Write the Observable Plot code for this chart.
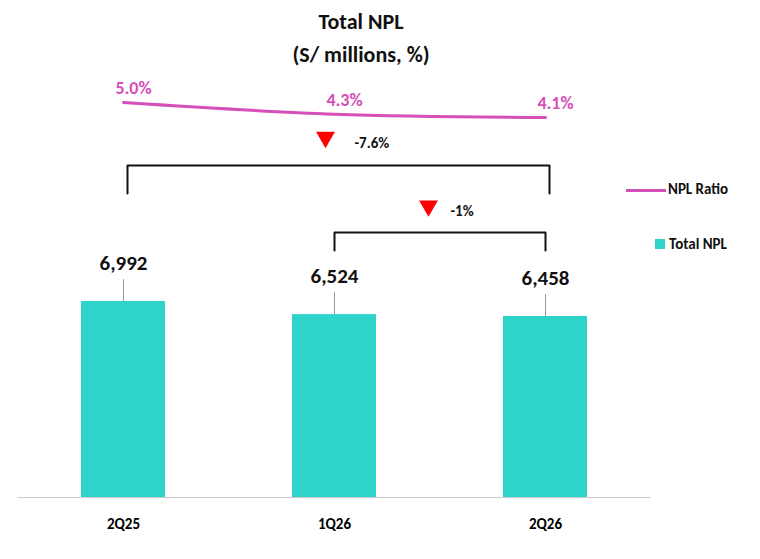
<!DOCTYPE html>
<html><head><meta charset="utf-8">
<script src="https://cdn.jsdelivr.net/npm/d3@7"></script>
<script src="https://cdn.jsdelivr.net/npm/@observablehq/plot@0.6"></script>
<style>
body{margin:0;background:#fff;font-family:Calibri,"Liberation Sans",Arial,sans-serif}
#wrap{position:relative;width:760px;height:559px}
#wrap svg{position:absolute;left:0;top:0}
.t{position:absolute;left:0;width:722px;text-align:center;font-weight:bold;font-size:22px;color:#111}
.lg{position:absolute;font-size:15px;font-weight:bold;color:#111}
</style></head><body>
<div id="wrap">
<div class="t" style="top:8px">Total NPL</div>
<div class="t" style="top:41px">(S/ millions, %)</div>
<div class="lg" style="left:626px;top:180px"><span style="display:inline-block;width:40px;height:3px;background:#D54FB8;vertical-align:middle;margin-right:2px"></span>NPL Ratio</div>
<div class="lg" style="left:655px;top:235px"><span style="display:inline-block;width:10px;height:10px;background:#2ED3CA;margin-right:4px"></span>Total NPL</div>
</div>
<script>
const periods = ["2Q25","1Q26","2Q26"];
const npl = [6992, 6524, 6458];
const ratio = [5.0, 4.3, 4.1];
const bars = periods.map((p,i)=>({p, v:npl[i]}));
const rat = periods.map((p,i)=>({p, r:ratio[i]}));
const xOpts = {type:"band", domain:periods, paddingInner:0.6, paddingOuter:0.3};
const teal="#2ED3CA", mag="#D54FB8";
const fmt = d3.format(",");
const b1 = [{p:"2Q25",y:10845},{p:"2Q25",y:11845},{p:"2Q26",y:11845},{p:"2Q26",y:10845}];
const b2 = [{p:"1Q26",y:8812},{p:"1Q26",y:9454},{p:"2Q26",y:9454},{p:"2Q26",y:8812}];
const main = Plot.plot({
  width:760, height:559, marginLeft:17.5, marginRight:109.5, marginTop:160.6, marginBottom:62,
  x:{...xOpts, label:null, tickSize:0},
  y:{domain:[0,12000], axis:null},
  style:{fontFamily:"Calibri, Liberation Sans, Arial, sans-serif", fontSize:"15px"},
  marks:[
    Plot.barY(bars,{x:"p", y:"v", fill:teal}),
    Plot.ruleY([0],{stroke:"#ccc"}),
    Plot.axisX({tickSize:0, fontWeight:"bold", fontSize:15, dy:12, stroke:"none"}),
    Plot.link(bars,{x1:"p", x2:"p", y1:"v", y2:d=>d.v+800, stroke:"#999"}),
    Plot.text(bars,{x:"p", y:"v", text:d=>fmt(d.v), dy:-38, fontSize:21, fontWeight:"bold", fill:"#111"}),
    Plot.line(b1,{x:"p", y:"y", stroke:"#111", strokeWidth:2, dx:4}),
    Plot.line(b2,{x:"p", y:"y", stroke:"#111", strokeWidth:2}),
    Plot.dot([{p:"1Q26",y:12850}],{x:"p",y:"y",symbol:"triangle",r:7,fill:"red",rotate:180,dx:-9}),
    Plot.text([{p:"1Q26",y:12650,t:"-7.6%"}],{x:"p",y:"y",text:"t",dx:20,textAnchor:"start",fontSize:15,fontWeight:"bold",fill:"#111"}),
    Plot.dot([{p:"1Q26",y:10400}],{x:"p",y:"y",symbol:"triangle",r:7,fill:"red",rotate:180,dx:94}),
    Plot.text([{p:"1Q26",y:10200,t:"-1%"}],{x:"p",y:"y",text:"t",dx:116,textAnchor:"start",fontSize:15,fontWeight:"bold",fill:"#111"})
  ]
});
const over = Plot.plot({
  width:760, height:559, marginLeft:17.5, marginRight:109.5, marginTop:102, marginBottom:442,
  x:{...xOpts, axis:null}, y:{domain:[4.1,5.0], axis:null},
  style:{fontFamily:"Calibri, Liberation Sans, Arial, sans-serif", background:"none"},
  marks:[
    Plot.line(rat,{x:"p", y:"r", stroke:mag, strokeWidth:3, curve:"natural"}),
    Plot.text(rat,{x:"p", y:"r", text:d=>d.r.toFixed(1)+"%", dy:-14, dx:10, fontSize:18, fontWeight:"bold", fill:mag})
  ]
});
const w=document.getElementById("wrap");
w.prepend(main); w.appendChild(over);
</script>
</body></html>
